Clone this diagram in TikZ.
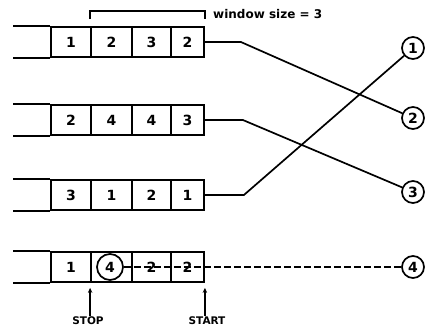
\documentclass[tikz,border=0pt]{standalone}
\usepackage{fontspec}
\setmainfont{DejaVu Sans}
\usetikzlibrary{arrows.meta}
\newcommand\qrow[6]{%
  \node[cell, minimum width=40pt] (#1c1) at (71,#2) {#3};
  \node[cell, minimum width=41pt] (#1c2) at (111.5,#2) {#4};
  \node[cell, minimum width=39pt] (#1c3) at (151.5,#2) {#5};
  \node[cell, minimum width=33pt] (#1c4) at (187.5,#2) {#6};
  \draw[box] (#1c1.north west) -- ++(-37,0);
  \draw[box] (#1c1.south west) -- ++(-37,0);
}
\begin{document}
\begin{tikzpicture}[x=1pt,y=-1pt,
  box/.style={line width=1.8pt},
  cell/.style={draw, line width=1.8pt, minimum height=30pt, inner sep=0pt,
    font=\fontsize{14}{16}\selectfont\bfseries},
  rc/.style={draw, circle, line width=1.7pt, minimum size=22pt, inner sep=0pt,
    font=\fontsize{14}{16}\selectfont\bfseries},
  conn/.style={line width=1.7pt},
  lab/.style={font=\fontsize{10.5}{12}\selectfont\bfseries, inner sep=1pt},
  arr/.style={line width=1.5pt, -{Stealth[length=5pt,width=4.5pt]}}]
\useasboundingbox (0,0) rectangle (428,329);
\qrow{a}{42}{1}{2}{3}{2}
\qrow{b}{120}{2}{4}{4}{3}
\qrow{c}{195}{3}{1}{2}{1}
\qrow{d}{267}{1}{}{2}{2}
% bracket and window label
\draw[line width=1.3pt] ([yshift=7pt]ac2.north west) -- ([yshift=15pt]ac2.north west)
  -- ([yshift=15pt]ac4.north east) -- ([yshift=7pt]ac4.north east);
\node[anchor=west, inner sep=0pt, font=\fontsize{12}{14}\selectfont\bfseries] (win) at (213,14) {window size = 3};
% right circles
\node[rc] (o1) at (413,48) {1};
\node[rc] (o2) at (413,118) {2};
\node[rc] (o3) at (413,192) {3};
\node[rc] (o4) at (413,267) {4};
% connectors
\draw[conn] (ac4.east) -- ++(36,0) -- (o2);
\draw[conn] (bc4.east) -- ++(38,0) -- (o3);
\draw[conn] (cc4.east) -- ++(39,0) -- (o1);
% circled 4 in last row
\node[rc, minimum size=26pt] (ci) at (110,267) {4};
\draw[conn, dash pattern=on 7pt off 3pt] (ci.east) -- (o4);
% STOP / START
\node[lab] (stop) at (88,321) {STOP};
\node[lab] (start) at (207,321) {START};
\draw[arr] (stop.north -| dc2.south west) -- ([yshift=-5pt]dc2.south west);
\draw[arr] (start.north -| dc4.south east) -- ([yshift=-5pt]dc4.south east);
\end{tikzpicture}
\end{document}
